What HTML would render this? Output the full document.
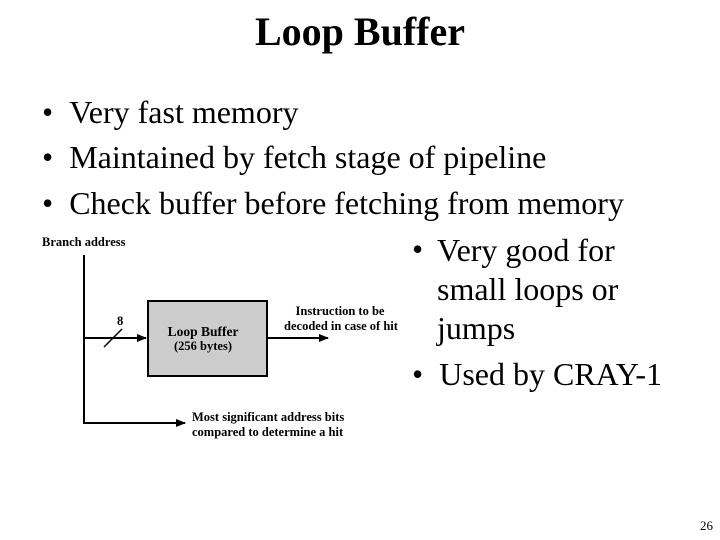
<!DOCTYPE html>
<html><head><style>
body{margin:0;width:720px;height:540px;background:#fff;position:relative;overflow:hidden;font-family:"Liberation Serif",serif;color:#000}
.t{position:absolute;white-space:nowrap}
.b{font-size:32px}
</style></head><body>
<div class="t" style="left:0;width:720px;text-align:center;top:8px;font-size:40px;font-weight:bold">Loop Buffer</div>
<div class="t b" style="left:42px;top:94px">•&nbsp;&nbsp;Very fast memory</div>
<div class="t b" style="left:42px;top:139px">•&nbsp;&nbsp;Maintained by fetch stage of pipeline</div>
<div class="t b" style="left:42px;top:185px">•&nbsp;&nbsp;Check buffer before fetching from memory</div>
<div class="t b" style="left:412px;top:231px">•</div>
<div class="t b" style="left:437px;top:231px;line-height:39px">Very good for<br>small loops or<br>jumps</div>
<div class="t b" style="left:412px;top:356px">•&nbsp;&nbsp;Used by CRAY-1</div>
<div class="t" style="left:700px;top:518px;font-size:13px">26</div>
<svg width="720" height="540" style="position:absolute;left:0;top:0">
<defs><marker id="a" markerWidth="10" markerHeight="8" refX="9" refY="4" orient="auto" markerUnits="userSpaceOnUse"><path d="M0,0L10,4L0,8z"/></marker></defs>
<g stroke="#000" stroke-width="2" fill="none">
<path d="M84,255V423H185" marker-end="url(#a)"/>
<path d="M84,338H146" marker-end="url(#a)"/>
<path d="M267,338H328" marker-end="url(#a)"/>
<path d="M104,347L122,329" stroke-width="1.5"/>
</g>
<rect x="148" y="301" width="119" height="75" fill="#ccc" stroke="#000" stroke-width="2"/>
<g font-family="Liberation Serif,serif" font-weight="bold" font-size="12.5">
<text x="42" y="246">Branch address</text>
<text x="117" y="325">8</text>
<text x="203" y="336" text-anchor="middle" font-size="13.5">Loop Buffer</text>
<text x="203" y="350" text-anchor="middle">(256 bytes)</text>
<text x="340" y="315" text-anchor="middle">Instruction to be</text>
<text x="341" y="330" text-anchor="middle">decoded in case of hit</text>
<text x="192" y="421">Most significant address bits</text>
<text x="192" y="436">compared to determine a hit</text>
</g>
</svg>
</body></html>
